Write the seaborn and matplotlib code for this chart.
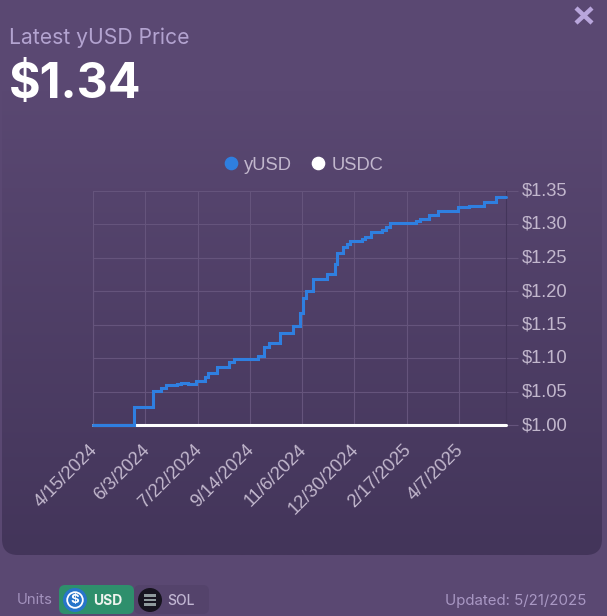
import numpy as np
import pandas as pd
import matplotlib
matplotlib.use("Agg")
import matplotlib.pyplot as plt
from matplotlib.lines import Line2D
from matplotlib.patches import FancyBboxPatch, Circle, Rectangle
from matplotlib.colors import LinearSegmentedColormap
from matplotlib.transforms import ScaledTranslation
import seaborn as sns

# ---- data ----
step_index = [0, 31, 46, 52, 56, 64, 67, 73, 79, 86, 88, 95, 104, 108, 126, 131, 135, 143, 153, 158,
              161, 163, 168, 179, 185, 187, 191, 194, 197, 206, 208, 213, 221, 224, 227, 247, 250,
              257, 264, 279, 288, 299, 308, 316]
yusd_values = [1.000, 1.027, 1.051, 1.055, 1.059, 1.061, 1.063, 1.061, 1.066, 1.072, 1.078, 1.086,
               1.0935, 1.098, 1.1035, 1.116, 1.123, 1.137, 1.148, 1.167, 1.189, 1.200, 1.218, 1.226,
               1.240, 1.257, 1.266, 1.270, 1.275, 1.277, 1.281, 1.288, 1.291, 1.296, 1.302, 1.304,
               1.308, 1.313, 1.319, 1.325, 1.327, 1.333, 1.340, 1.340]
usdc_index = [0, 316]
usdc_values = [1.0, 1.0]
tick_positions = [0, 40, 80, 120, 160, 200, 240, 280]
tick_dates = ["4/15/2024", "6/3/2024", "7/22/2024", "9/14/2024", "11/6/2024",
              "12/30/2024", "2/17/2025", "4/7/2025"]
y_ticks = [1.00, 1.05, 1.10, 1.15, 1.20, 1.25, 1.30, 1.35]

W, H = 607, 616
BG = "#5a4872"
sns.set_theme(style="white")
plt.rcParams["font.family"] = ["Liberation Sans", "DejaVu Sans"]

fig = plt.figure(figsize=(W / 100, H / 100), dpi=100, facecolor=BG)

# page layer in pixel coordinates
bg = fig.add_axes([0, 0, 1, 1], zorder=0)
bg.set_xlim(0, W)
bg.set_ylim(H, 0)
bg.axis("off")
cmap = LinearSegmentedColormap.from_list("panel", ["#5a4872", "#43355a"])
grad = bg.imshow(np.linspace(0, 1, 256).reshape(-1, 1), extent=(2, 602, 555, 90), aspect="auto", cmap=cmap, zorder=1)
panel = FancyBboxPatch((2 + 16, 60), 600 - 32, 495 - 16, boxstyle="round,pad=16,rounding_size=16",
                       facecolor="none", edgecolor="none", transform=bg.transData)
bg.add_patch(panel)
grad.set_clip_path(panel)
bg.set_xlim(0, W)
bg.set_ylim(H, 0)

# chart
ax = fig.add_axes([93 / W, 1 - 425 / H, (506 - 93) / W, (425 - 190.5) / H], zorder=2)
ax.patch.set_alpha(0)
grid_c = "#65547c"
df_usdc = pd.DataFrame({"x": usdc_index, "y": usdc_values})
df_yusd = pd.DataFrame({"x": step_index, "y": yusd_values})
sns.lineplot(data=df_usdc, x="x", y="y", ax=ax, color="white", linewidth=2.2, zorder=3, clip_on=False)
sns.lineplot(data=df_yusd, x="x", y="y", ax=ax, color="#2f7fe0", linewidth=2.2, drawstyle="steps-post",
             zorder=4, clip_on=False, solid_joinstyle="miter")
ax.set_xlim(0, 316)
ax.set_ylim(1.0, 1.35)
ax.set_xlabel("")
ax.set_ylabel("")
ax.set_xticks(tick_positions)
ax.set_xticklabels(tick_dates, rotation=45, ha="right", rotation_mode="anchor")
ax.set_yticks(y_ticks)
ax.set_yticklabels([f"${v:.2f}" for v in y_ticks])
ax.yaxis.tick_right()
tick_c = "#c2b7cd"
ax.tick_params(axis="both", length=8.6, width=0.8, color=grid_c, labelcolor=tick_c, labelsize=13.2)
ax.tick_params(axis="x", pad=1)
ax.tick_params(axis="y", pad=3)
ax.grid(True, color=grid_c, lw=0.8)
ax.set_axisbelow(True)
for name, sp in ax.spines.items():
    sp.set_visible(name in ("left", "right"))
    sp.set_color(grid_c)
    sp.set_linewidth(0.8)
ax.spines["right"].set_color("#43355a")

xshift = ScaledTranslation(-4 / 100, -3 / 100, fig.dpi_scale_trans)
for lab in ax.get_xticklabels():
    lab.set_transform(lab.get_transform() + xshift)
yshift = ScaledTranslation(0, 1.5 / 100, fig.dpi_scale_trans)
for lab in ax.get_yticklabels():
    lab.set_transform(lab.get_transform() + yshift)

handles = [
    Line2D([], [], ls="", marker="o", ms=8.8, color="#2f7fe0", label="yUSD"),
    Line2D([], [], ls="", marker="o", ms=8.8, color="white", label="USDC"),
]
leg = ax.legend(handles=handles, ncol=2, frameon=False, loc="center", fontsize=13.2,
                bbox_to_anchor=((303 - 93) / 413, 1 + (190.5 - 165) / 234.5), labelcolor=tick_c,
                handlelength=0.9, handletextpad=0.3, columnspacing=0.95, borderpad=0)

# header text
bg.text(9, 38, "Latest yUSD Price", color="#b3a3d0", fontsize=15.2, family="Inter", va="center", ha="left", zorder=5)
bg.text(9, 85, "$1.34", color="white", fontsize=34.8, family="Inter", weight="bold", va="center", ha="left", zorder=5)
bg.plot([576, 592], [8, 23], color="#b9a6dc", lw=3.2, solid_capstyle="butt", zorder=5)
bg.plot([592, 576], [8, 23], color="#b9a6dc", lw=3.2, solid_capstyle="butt", zorder=5)

# footer
bg.text(17, 600.5, "Units", color="#a392bd", fontsize=10.7, family="Inter", va="center", ha="left", zorder=5)
bg.add_patch(FancyBboxPatch((134, 585), 75, 29, boxstyle="round,pad=0,rounding_size=6",
                            fc="#54436b", ec="none", zorder=3))
bg.add_patch(FancyBboxPatch((59, 585), 75, 29, boxstyle="round,pad=0,rounding_size=6",
                            fc="#2e8f6c", ec="none", zorder=4))
bg.add_patch(Circle((75, 600), 12, fc="#2775ca", ec="none", zorder=5))
bg.add_patch(Circle((75, 600), 7.8, fc="none", ec="white", lw=1.3, zorder=6))
bg.text(75, 600.5, "$", color="white", fontsize=9.5, weight="bold", ha="center", va="center", zorder=7, family="Inter")
bg.text(93, 601, "USD", color="#eef3ee", fontsize=10, weight="bold", family="Inter", va="center", ha="left", zorder=6)
bg.add_patch(Circle((150, 600), 12, fc="#17141f", ec="none", zorder=5))
for yy in (595.5, 600, 604.5):
    bg.add_patch(Rectangle((144, yy - 1.2), 12, 2.4, fc="#8f9a9c", ec="none", zorder=6))
bg.text(167, 601, "SOL", color="#c2b7d3", fontsize=10, family="Inter", weight="medium", va="center", ha="left", zorder=6)
bg.text(586, 600.5, "Updated: 5/21/2025", color="#a998c4", fontsize=10.8, family="Inter", va="center", ha="right", zorder=5)

fig.savefig("out.png", dpi=100, facecolor=BG)
